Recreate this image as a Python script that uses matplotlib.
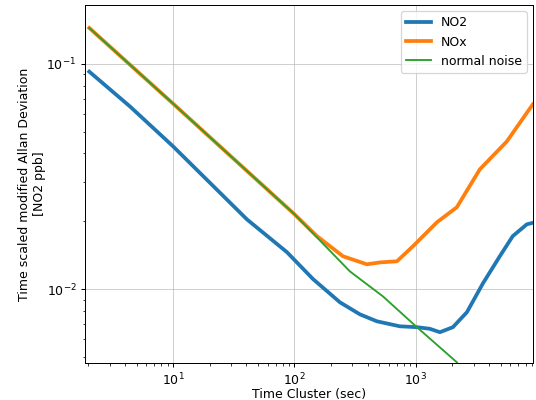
import matplotlib
matplotlib.use("Agg")
import matplotlib.pyplot as plt

# values (tau in seconds, deviation in ppb)
no2_tau = [2.04, 4.43, 10, 40.6, 86.7, 142, 237, 346, 477, 738, 1019, 1300, 1577, 2018, 2632, 3560, 4910, 6280, 8200, 9180]
no2_dev = [0.0922, 0.0645, 0.0430, 0.0204, 0.0146, 0.0111, 0.00875, 0.00774, 0.00721, 0.00685, 0.00679, 0.00668, 0.00645, 0.00679, 0.00791, 0.0106, 0.0140, 0.0172, 0.0194, 0.0197]

nox_tau = [2.04, 10, 100, 153, 251, 395, 506, 698, 945, 1489, 2175, 3362, 5610, 9180]
nox_dev = [0.144, 0.0665, 0.0215, 0.0172, 0.0140, 0.0129, 0.01315, 0.0133, 0.0155, 0.0198, 0.0231, 0.034, 0.0452, 0.066]

noise_tau = [2.04, 10, 100, 286, 535, 1019, 2170, 2400]
noise_dev = [0.144, 0.0665, 0.0215, 0.0120, 0.0093, 0.00679, 0.00475, 0.0044]

fig = plt.figure(figsize=(536 / 90, 400 / 90), dpi=90)
ax = fig.add_axes([0.159, 0.0925, 0.835, 0.895])

ax.loglog(no2_tau, no2_dev, color="tab:blue", lw=3, label="NO2")
ax.loglog(nox_tau, nox_dev, color="tab:orange", lw=3, label="NOx")
ax.loglog(noise_tau, noise_dev, color="tab:green", lw=1.5, label="normal noise")

ax.set_xlim(1.89, 9180)
ax.set_ylim(0.00471, 0.182)
ax.grid(True, which="major", alpha=0.6)
ax.set_xlabel("Time Cluster (sec)", labelpad=0)
ax.set_ylabel("Time scaled modified Allan Deviation\n[NO2 ppb]", labelpad=0)
ax.legend(loc="upper right")

fig.savefig("out.png", dpi=90)
